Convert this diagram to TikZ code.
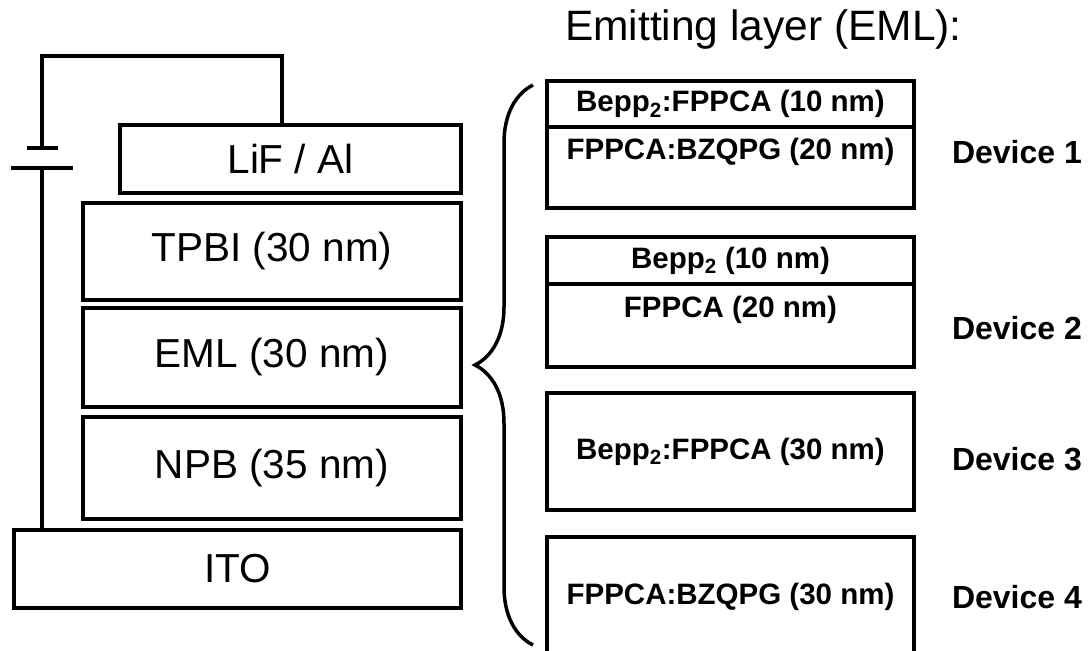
\documentclass[tikz,border=0pt]{standalone}
\usepackage{fontspec}
\setmainfont{Liberation Sans}
\usetikzlibrary{decorations.pathreplacing}

\begin{document}
\begin{tikzpicture}[x=1pt, y=-1pt, line width=4pt,
    layer/.style={draw, inner sep=0pt, font=\fontsize{40.5}{46}\selectfont},
    emlbox/.style={draw, inner sep=0pt, minimum width=367pt, font=\fontsize{29.5}{34}\selectfont\bfseries},
    emltext/.style={inner sep=0pt, font=\fontsize{29.5}{34}\selectfont\bfseries},
    devtext/.style={anchor=west, inner sep=0pt, font=\fontsize{32}{36}\selectfont\bfseries}]
    \useasboundingbox (0, 0) rectangle (1088, 651);

    % DEVICE STACK
    \node (lif) at (290.5, 159) [layer, minimum width=341pt, minimum height=68pt] {LiF / Al};
    \node (tpbi) at (272, 251.5) [layer, minimum width=378pt, minimum height=97pt] {TPBI (30 nm)};
    \node (eml) at (272, 357.5) [layer, minimum width=378pt, minimum height=99pt] {EML (30 nm)};
    \node (npb) at (272, 468) [layer, minimum width=378pt, minimum height=102pt] {NPB (35 nm)};
    \node (ito) at (237.5, 569) [layer, minimum width=447pt, minimum height=78pt] {ITO};

    % BATTERY AND WIRES
    \coordinate (plus) at (42, 148);
    \coordinate (minus) at (42, 168);
    \coordinate (wire) at (42, 56);
    \draw ([xshift=-15.5pt]plus) -- ([xshift=15.5pt]plus);
    \draw ([xshift=-31pt]minus) -- ([xshift=31pt]minus);
    \draw (plus) -- (wire) -| ([xshift=-8.5pt]lif.north);
    \draw (minus) -- (minus |- ito.north);

    % EML CURLY BRACE
    \draw[decorate, decoration={brace, amplitude=58pt}, line width=3.5pt] (533, 645) -- (533, 85);

    \node (title) at (563, 40) [anchor=base west, inner sep=0pt, font=\fontsize{42.5}{48}\selectfont] {Emitting layer (EML):};

    % EML VARIANTS
    \node (d1a) at (730.5, 104) [emlbox, minimum height=46pt] {Bepp\textsubscript{2}:FPPCA (10 nm)};
    \node (d1b) at (730.5, 167.5) [emlbox, minimum height=81pt] {};
    \node (t1) at (730.5, 152) [emltext] {FPPCA:BZQPG (20 nm)};

    \node (d2a) at (730.5, 260.5) [emlbox, minimum height=47pt] {Bepp\textsubscript{2} (10 nm)};
    \node (d2b) at (730.5, 325.5) [emlbox, minimum height=83pt] {};
    \node (t2) at (730.5, 310) [emltext] {FPPCA (20 nm)};

    \node (d3) at (730.5, 451.5) [emlbox, minimum height=117pt] {Bepp\textsubscript{2}:FPPCA (30 nm)};
    \node (d4) at (730.5, 597) [emlbox, minimum height=120pt] {FPPCA:BZQPG (30 nm)};

    % DEVICE LABELS
    \node (dev1) at (950, 152) [devtext] {Device 1};
    \node (dev2) at (950, 328) [devtext] {Device 2};
    \node (dev3) at (950, 459) [devtext] {Device 3};
    \node (dev4) at (950, 597) [devtext] {Device 4};
\end{tikzpicture}
\end{document}
